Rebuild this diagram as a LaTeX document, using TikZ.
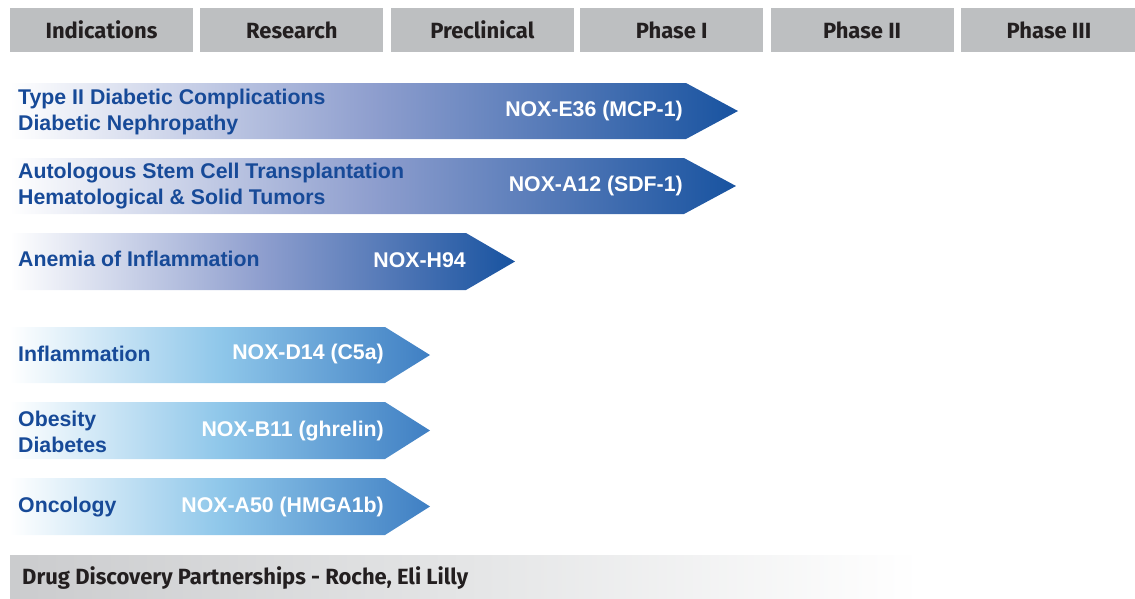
\documentclass[tikz,border=0pt]{standalone}
\usepackage{fontspec}
\setmainfont{Liberation Sans}
\newfontfamily\headfont{Fira Sans}
\usetikzlibrary{positioning}
\definecolor{headgray}{HTML}{BDBFC1}
\definecolor{headtext}{HTML}{231F20}
\definecolor{darkmid}{HTML}{8E9ECE}
\definecolor{darkend}{HTML}{1853A0}
\definecolor{lightmid}{HTML}{8FC7EA}
\definecolor{lightend}{HTML}{3F7FC3}
\definecolor{textblue}{HTML}{174A98}
\definecolor{barleft}{HTML}{CBCCCE}
\definecolor{barmid}{HTML}{E4E5E6}

\tikzset{
  phasebox/.style={fill=headgray, minimum width=183pt, minimum height=44pt, inner sep=0pt,
    text=headtext, font=\headfont\bfseries\fontsize{22}{24}\selectfont},
  darkarrow/.style={left color=white, right color=darkend, middle color=darkmid},
  lightarrow/.style={left color=white, right color=lightend, middle color=lightmid},
  indication/.style={anchor=west, align=left, inner sep=0pt, text=textblue,
    font=\bfseries\fontsize{21.3}{26}\selectfont},
  drugname/.style={anchor=east, inner sep=0pt, text=white,
    font=\bfseries\fontsize{21.3}{24}\selectfont},
}

\begin{document}
\begin{tikzpicture}[x=1pt, y=-1pt]
  \useasboundingbox (0,0) rectangle (1135,598);

  % header
  \node[phasebox] (ind) at (101.5,30) {Indications};
  \node[phasebox, right=7pt of ind] (res) {Research};
  \node[phasebox, right=7pt of res] (pre) {Preclinical};
  \node[phasebox, right=6pt of pre] (ph1) {Phase I};
  \node[phasebox, right=7pt of ph1] (ph2) {Phase II};
  \node[phasebox, minimum width=176pt, right=7pt of ph2] (ph3) {Phase III};

  % arrows
  \path[darkarrow] (10,83) -- (686,83) -- (738,111) -- (686,139) -- (10,139) -- cycle;
  \path[darkarrow] (10,158) -- (684,158) -- (736,186) -- (684,214) -- (10,214) -- cycle;
  \path[darkarrow] (10,233) -- (466,233) -- (515,261.5) -- (466,290) -- (10,290) -- cycle;
  \path[lightarrow] (10,327) -- (385,327) -- (430,355) -- (385,383) -- (10,383) -- cycle;
  \path[lightarrow] (10,402) -- (385,402) -- (430,430.5) -- (385,459) -- (10,459) -- cycle;
  \path[lightarrow] (10,478) -- (385,478) -- (430,506.5) -- (385,535) -- (10,535) -- cycle;

  \node[indication] (t2d) at (18,112) {Type II Diabetic Complications\\Diabetic Nephropathy};
  \node[drugname] (e36) at (683,111) {NOX-E36 (MCP-1)};
  \node[indication] (ascT) at (18,186) {Autologous Stem Cell Transplantation\\Hematological \& Solid Tumors};
  \node[drugname] (a12) at (683,186) {NOX-A12 (SDF-1)};
  \node[indication] (anemia) at (18,259) {Anemia of Inflammation};
  \node[drugname] (h94) at (466,260) {NOX-H94};
  \node[indication] (infl) at (18,354) {Inflammation};
  \node[drugname] (d14) at (384,354) {NOX-D14 (C5a)};
  \node[indication] (obes) at (18,432) {Obesity\\Diabetes};
  \node[drugname] (b11) at (384,431) {NOX-B11 (ghrelin)};
  \node[indication] (onco) at (18,507) {Oncology};
  \node[drugname] (a50) at (384,507) {NOX-A50 (HMGA1b)};

  % partnerships
  \path[left color=barleft, right color=white, middle color=barmid] (10,555) rectangle (920,598);
  \node[anchor=west, inner sep=0pt, text=headtext, font=\headfont\bfseries\fontsize{22}{24}\selectfont]
    (partners) at (22,578) {Drug Discovery Partnerships - Roche, Eli Lilly};
\end{tikzpicture}
\end{document}
